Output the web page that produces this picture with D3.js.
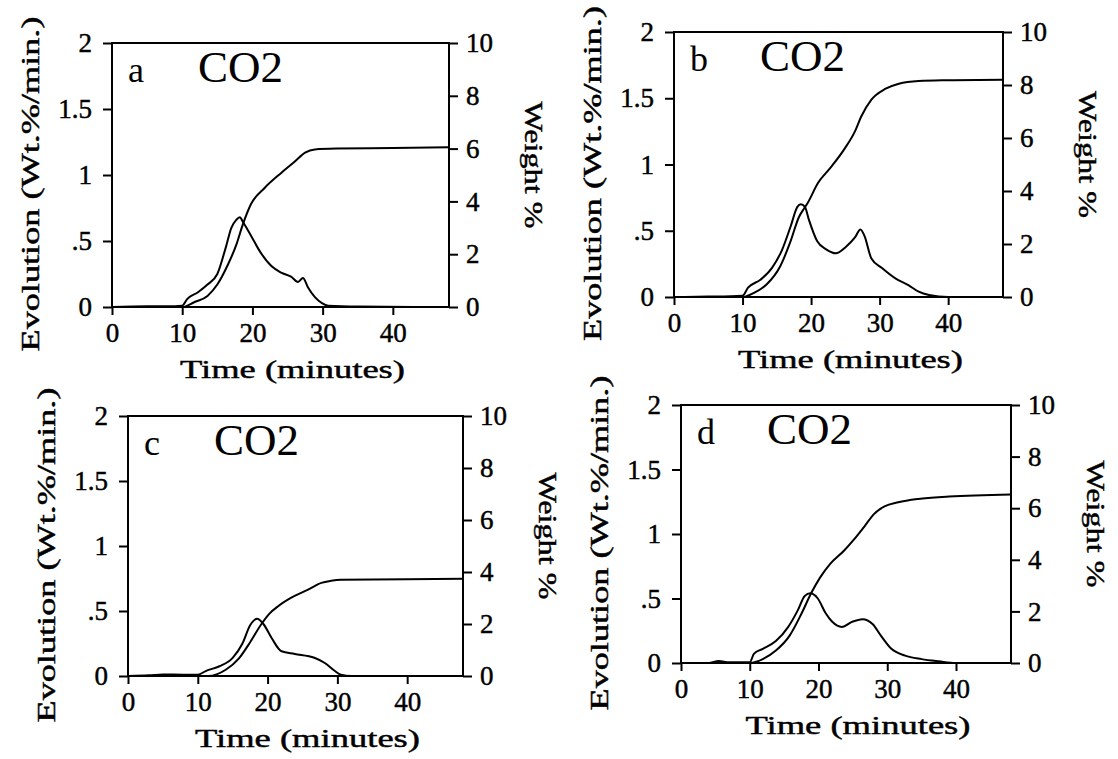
<!DOCTYPE html>
<html>
<head>
<meta charset="utf-8">
<script src="https://cdn.jsdelivr.net/npm/d3@7"></script>
<style>
    body { margin: 0; background: #fff; }
    svg text { font-family: "Liberation Serif", serif; fill: #000; }
</style>
</head>
<body>
<svg id="chart" width="1118" height="759"></svg>
<script>
// ------------------------------------------------------------------ //
// DATA                                 //
// ------------------------------------------------------------------ //

// shared ticks
var xTicks = [0, 10, 20, 30, 40]
var leftTicks = [0, 0.5, 1, 1.5, 2]
var leftTickLabels = ["0", ".5", "1", "1.5", "2"]
var rightTicks = [0, 2, 4, 6, 8, 10]

// panel a
var aRateTime = [0, 5, 8, 10, 10.7, 12.2, 13.6, 15.0, 16.2, 17.0, 17.7, 18.2, 18.7, 19.8, 21.2, 22.7, 24.1, 25.5, 26.5, 27.2, 27.9, 28.9, 29.9, 30.8, 35, 48]
var aRate = [0, 0.005, 0.005, 0.01, 0.06, 0.11, 0.17, 0.25, 0.45, 0.6, 0.66, 0.68, 0.64, 0.54, 0.41, 0.31, 0.26, 0.23, 0.19, 0.22, 0.15, 0.075, 0.03, 0.01, 0.003, 0]
var aWtTime = [0, 10, 11.7, 13.6, 15.0, 16.5, 17.7, 18.6, 19.8, 21.7, 24.1, 26.0, 27.5, 28.9, 32, 40, 48]
var aWt = [0, 0, 0.18, 0.42, 0.85, 1.6, 2.35, 3.1, 3.9, 4.5, 5.08, 5.5, 5.85, 5.97, 6.0, 6.02, 6.05]

// panel b
var bRateTime = [0, 5, 10, 10.8, 12.6, 14.3, 15.8, 17.0, 18.0, 18.5, 19.1, 19.7, 20.9, 22.2, 23.6, 25.1, 26.4, 27.2, 27.8, 28.8, 30.3, 32.3, 34.2, 35.7, 37.2, 40, 48]
var bRate = [0, 0.003, 0.01, 0.07, 0.13, 0.22, 0.36, 0.53, 0.68, 0.70, 0.68, 0.58, 0.42, 0.36, 0.33, 0.38, 0.45, 0.51, 0.46, 0.29, 0.22, 0.14, 0.09, 0.04, 0.015, 0, 0]
var bWtTime = [0, 10, 11.6, 13.5, 15.5, 17.0, 18.2, 19.0, 19.5, 21.0, 22.9, 24.9, 26.4, 27.3, 28.8, 30.8, 32.8, 35.7, 40, 48]
var bWt = [0, 0, 0.15, 0.47, 1.16, 2.1, 3.0, 3.35, 3.55, 4.3, 4.9, 5.6, 6.25, 6.8, 7.45, 7.85, 8.05, 8.15, 8.18, 8.2]

// panel c
var cRateTime = [0, 3, 5, 8, 10, 11.2, 13.1, 15.0, 16.4, 17.5, 18.5, 19.4, 20.6, 22.0, 23.9, 26.7, 28.2, 29.6, 30.5, 32, 48]
var cRate = [0, 0.005, 0.012, 0.01, 0.01, 0.04, 0.075, 0.14, 0.25, 0.39, 0.44, 0.40, 0.29, 0.19, 0.17, 0.14, 0.10, 0.04, 0.01, 0, 0]
var cWtTime = [0, 11.5, 14, 15.9, 17.5, 19, 20.2, 21.6, 23.4, 25.8, 27.7, 29.1, 30.5, 40, 48]
var cWt = [0, 0, 0.24, 0.68, 1.3, 1.95, 2.38, 2.7, 3.01, 3.32, 3.58, 3.66, 3.7, 3.72, 3.74]

// panel d
var dRateTime = [0, 4, 5.5, 7, 10, 10.6, 11.9, 13.8, 15.6, 17.0, 18.0, 18.8, 19.9, 21.0, 22.0, 23.4, 24.9, 26.4, 27.9, 29.1, 30.6, 32.6, 35, 37.5, 40, 48]
var dRate = [0, 0, 0.015, 0.005, 0.005, 0.07, 0.11, 0.17, 0.28, 0.41, 0.52, 0.54, 0.50, 0.39, 0.32, 0.28, 0.32, 0.34, 0.30, 0.21, 0.11, 0.057, 0.03, 0.013, 0, 0]
var dWtTime = [0, 10, 11.9, 13.8, 15.8, 17.5, 19.0, 20.2, 21.7, 23.7, 25.2, 26.7, 28.1, 29.6, 31.6, 34.5, 39, 48]
var dWt = [0, 0, 0.15, 0.48, 1.06, 1.9, 2.74, 3.3, 3.84, 4.35, 4.8, 5.3, 5.78, 6.07, 6.23, 6.36, 6.45, 6.53]

// ------------------------------------------------------------------ //
// LAYOUT                                                              //
// ------------------------------------------------------------------ //

var svg = d3.select('#chart')

svg.append('rect')
    .attr('width', 1118)
    .attr('height', 759)
    .attr('fill', '#fff')

var panels = [
    { letter: 'a', left: 112, top: 43, width: 337, height: 264, rateT: aRateTime, rate: aRate, wtT: aWtTime, wt: aWt },
    { letter: 'b', left: 674, top: 32, width: 329, height: 265, rateT: bRateTime, rate: bRate, wtT: bWtTime, wt: bWt },
    { letter: 'c', left: 128, top: 416, width: 335, height: 260, rateT: cRateTime, rate: cRate, wtT: cWtTime, wt: cWt },
    { letter: 'd', left: 681, top: 405, width: 330, height: 258, rateT: dRateTime, rate: dRate, wtT: dWtTime, wt: dWt }
]

panels.forEach(drawPanel)

// ------------------------------------------------------------------ //
// ONE PANEL                                                           //
// ------------------------------------------------------------------ //

function drawPanel(p) {
    var g = svg.append('g')
        .attr('transform', 'translate(' + p.left + ',' + p.top + ')')

    var x = d3.scaleLinear().domain([0, 48]).range([0, p.width])
    var yL = d3.scaleLinear().domain([0, 2]).range([p.height, 0])
    var yR = d3.scaleLinear().domain([0, 10]).range([p.height, 0])

    // axes
    var xAxis = d3.axisBottom(x)
        .tickValues(xTicks)
        .tickSize(8)
        .tickPadding(8)
        .tickSizeOuter(0)

    var leftAxis = d3.axisLeft(yL)
        .tickValues(leftTicks)
        .tickFormat(function (d, i) { return leftTickLabels[i] })
        .tickSize(9)
        .tickPadding(11)
        .tickSizeOuter(0)

    var rightAxis = d3.axisRight(yR)
        .tickValues(rightTicks)
        .tickSize(9)
        .tickPadding(8)
        .tickSizeOuter(0)

    g.append('g')
        .attr('class', 'axis')
        .attr('transform', 'translate(0,' + p.height + ')')
        .call(xAxis)

    g.append('g')
        .attr('class', 'axis')
        .call(leftAxis)

    g.append('g')
        .attr('class', 'axis')
        .attr('transform', 'translate(' + p.width + ',0)')
        .call(rightAxis)

    g.selectAll('.axis .domain').remove()
    g.selectAll('.axis line')
        .attr('stroke', '#000')
        .attr('stroke-width', 2)
    g.selectAll('.axis text')
        .style('font-family', '"Liberation Serif", serif')
        .style('font-size', '27px')
        .attr('fill', '#000')
        .attr('stroke', '#000')
        .attr('stroke-width', 0.45)

    // frame
    g.append('rect')
        .attr('width', p.width)
        .attr('height', p.height)
        .attr('fill', 'none')
        .attr('stroke', '#000')
        .attr('stroke-width', 2)

    // curves
    var rateLine = d3.line()
        .x(function (d) { return x(d[0]) })
        .y(function (d) { return yL(d[1]) })
        .curve(d3.curveMonotoneX)

    var wtLine = d3.line()
        .x(function (d) { return x(d[0]) })
        .y(function (d) { return yR(d[1]) })
        .curve(d3.curveMonotoneX)

    g.append('path')
        .datum(d3.zip(p.rateT, p.rate))
        .attr('d', rateLine)
        .attr('fill', 'none')
        .attr('stroke', '#000')
        .attr('stroke-width', 2)

    g.append('path')
        .datum(d3.zip(p.wtT, p.wt))
        .attr('d', wtLine)
        .attr('fill', 'none')
        .attr('stroke', '#000')
        .attr('stroke-width', 2)

    // panel letter + species
    g.append('text')
        .attr('x', 16)
        .attr('y', 39)
        .style('font-size', '36px')
        .text(p.letter)

    g.append('text')
        .attr('x', 86)
        .attr('y', 39)
        .style('font-size', '45px')
        .text('CO2')

    // axis titles
    g.append('text')
        .attr('x', p.width / 2 + 12)
        .attr('y', p.height + 71)
        .attr('text-anchor', 'middle')
        .attr('textLength', 225)
        .attr('lengthAdjust', 'spacingAndGlyphs')
        .attr('stroke', '#000')
        .attr('stroke-width', 0.45)
        .style('font-size', '26px')
        .text('Time (minutes)')

    g.append('text')
        .attr('transform', 'translate(-82,' + (p.height / 2 + 9) + ') rotate(-90)')
        .attr('text-anchor', 'middle')
        .attr('dy', '0.35em')
        .attr('textLength', 335)
        .attr('lengthAdjust', 'spacingAndGlyphs')
        .attr('stroke', '#000')
        .attr('stroke-width', 0.45)
        .style('font-size', '26px')
        .text('Evolution (Wt.%/min.)')

    g.append('text')
        .attr('transform', 'translate(' + (p.width + 85) + ',' + (p.height / 2 - 10) + ') rotate(90)')
        .attr('text-anchor', 'middle')
        .attr('dy', '0.35em')
        .attr('textLength', 127)
        .attr('lengthAdjust', 'spacingAndGlyphs')
        .attr('stroke', '#000')
        .attr('stroke-width', 0.45)
        .style('font-size', '26px')
        .text('Weight %')
}
</script>
</body>
</html>
